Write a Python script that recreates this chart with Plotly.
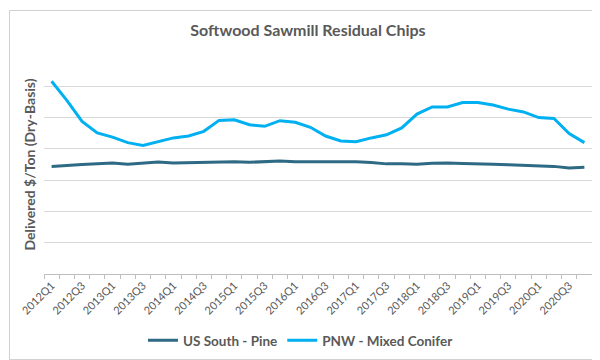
import plotly.graph_objects as go

quarters = [f"{y}Q{q}" for y in range(2012, 2021) for q in range(1, 5)]
tick_labels = [q if i % 2 == 0 else "" for i, q in enumerate(quarters)]

us_south_pine = [34.4, 34.8, 35.0, 35.2, 35.5, 35.1, 35.5, 35.8, 35.5, 35.6, 35.8, 35.8,
                 35.9, 35.7, 35.9, 36.1, 35.9, 35.9, 35.9, 35.9, 35.9, 35.6, 35.2, 35.2,
                 35.1, 35.4, 35.5, 35.3, 35.3, 35.1, 34.9, 34.8, 34.6, 34.4, 33.9, 34.1]
pnw_mixed_conifer = [61.6, 55.5, 48.75, 45.1, 43.75, 42.0, 41.1, 42.3, 43.5, 44.1, 45.6, 49.1,
                     49.3, 47.7, 47.2, 49.0, 48.5, 46.9, 44.1, 42.5, 42.3, 43.5, 44.5, 46.7,
                     51.1, 53.4, 53.4, 54.8, 54.8, 54.0, 52.7, 51.8, 50.0, 49.7, 44.9, 42.0]

grey = "#595959"
font_family = "Lato, 'Open Sans', sans-serif"

fig = go.Figure()
fig.add_trace(go.Scatter(x=quarters, y=us_south_pine, mode="lines", name="US South - Pine",
                         line=dict(color="#2E6A84", width=3)))
fig.add_trace(go.Scatter(x=quarters, y=pnw_mixed_conifer, mode="lines", name="PNW - Mixed Conifer",
                         line=dict(color="#00B0F0", width=3)))

W, H = 600, 360
ml, mr, mt, mb = 36, 16, 47, 89
pw, ph = W - ml - mr, H - mt - mb

fig.update_layout(
    width=W, height=H,
    margin=dict(l=ml, r=mr, t=mt, b=mb, pad=0),
    paper_bgcolor="white", plot_bgcolor="white",
    font=dict(family=font_family, color=grey),
    title=dict(text="Softwood Sawmill Residual Chips", x=0.5, xanchor="center",
               xref="container", y=1 - 22 / H, yref="container", yanchor="middle",
               font=dict(size=16, color=grey, weight="bold")),
    showlegend=True,
    legend=dict(orientation="h", x=0.5 - 0.032, xanchor="center",
                y=-(339 - (H - mb)) / ph, yanchor="middle",
                font=dict(size=13.5, color=grey, weight="bold"),
                itemwidth=30, traceorder="normal"),
    xaxis=dict(type="category", tickvals=quarters, ticktext=tick_labels,
               tickangle=-45, tickson="boundaries", ticks="outside", ticklen=4,
               tickcolor="#bfbfbf", showline=True, linecolor="#bfbfbf", linewidth=1,
               showgrid=False, tickfont=dict(size=11, color=grey),
               range=[-0.5, len(quarters) - 0.5]),
    yaxis=dict(range=[0, 70], dtick=10, showticklabels=False, showgrid=True,
               gridcolor="#d9d9d9", gridwidth=1, zeroline=False, ticks="",
               title=dict(text="Delivered $/Ton (Dry-Basis)", standoff=4,
                          font=dict(size=14, color=grey, weight="bold"))),
)

fig.add_shape(type="rect", xref="paper", yref="paper",
              x0=-(ml - 1.5) / pw, x1=1 + (mr - 2) / pw,
              y0=-(mb - 1.5) / ph, y1=1 + (mt - 1.5) / ph,
              line=dict(color="#d0d0d0", width=1), fillcolor="rgba(0,0,0,0)", layer="below")

fig.write_html("out.html")
